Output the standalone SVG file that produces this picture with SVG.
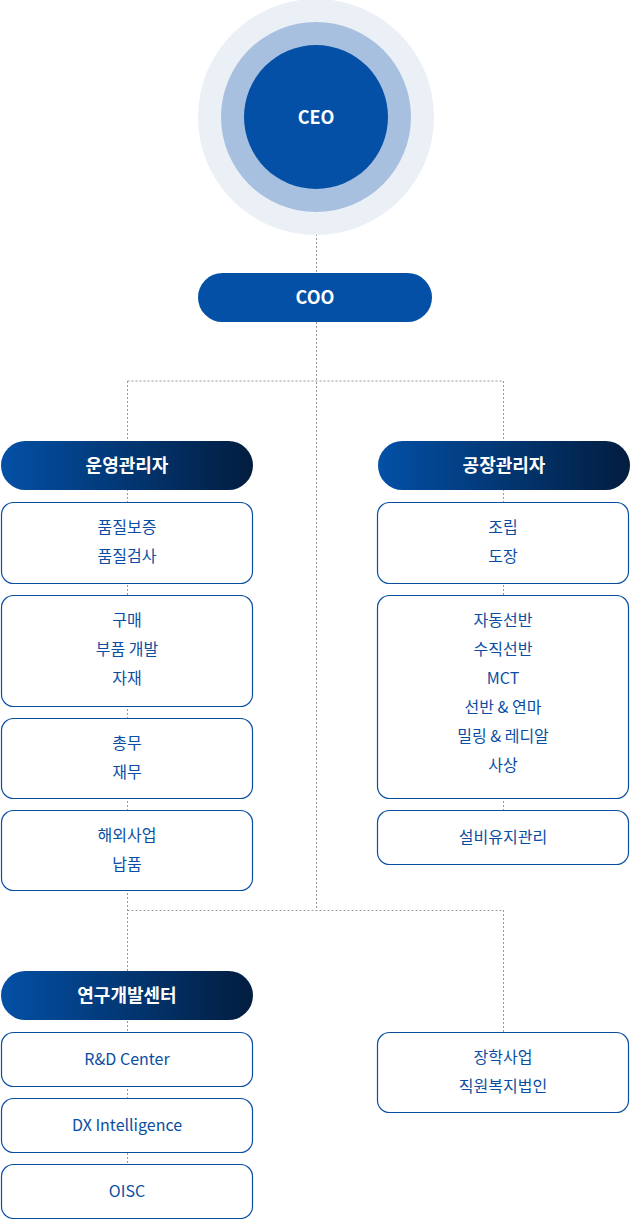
<svg xmlns="http://www.w3.org/2000/svg" width="630" height="1219" viewBox="0 0 630 1219">
<defs>
<linearGradient id="hg" x1="0" y1="0" x2="1" y2="0"><stop offset="0" stop-color="#0350a6"/><stop offset="1" stop-color="#021d3f"/></linearGradient>
<style>
.ln{stroke:#9a9a9a;stroke-width:1;stroke-dasharray:2 2;fill:none}
.bx{fill:#fff;stroke:#0a4ea3;stroke-width:1.2}
.hd{fill:url(#hg)}
.t{font-family:"Noto Sans CJK KR","Noto Sans",sans-serif;font-size:16px;fill:#0a4ea3;text-anchor:middle}
.w{font-family:"Noto Sans CJK KR","Noto Sans",sans-serif;font-size:18px;font-weight:bold;fill:#fff;text-anchor:middle}
</style>
</defs>
<rect width="630" height="1219" fill="#fff"/>
<g id="connectors">
<path class="ln" d="M316.5 190V908M127.5 381H503.5M127.5 381V1164M503.5 381V810M127.5 910.5H503.5M503.5 910V1032"/>
</g>
<g id="ceo">
<circle cx="316" cy="117" r="118" fill="#ebf0f7"/>
<circle cx="316" cy="117" r="95" fill="#a7c0df"/>
<circle cx="316" cy="117" r="72" fill="#0350a6"/>
<text class="w" x="316" y="124" font-size="17">CEO</text>
</g>
<g id="coo"><rect x="198" y="273" width="234" height="49" rx="24.5" fill="#0350a6"/><text class="w" x="315" y="304">COO</text></g>
<g id="ops"><rect class="hd" x="1" y="441" width="252" height="49" rx="24.5"/><text class="w" x="127" y="472">운영관리자</text></g>
<g id="ops1"><rect class="bx" x="1.5" y="502.5" width="251" height="81" rx="12"/><text class="t" x="127" y="533">품질보증</text><text class="t" x="127" y="562">품질검사</text></g>
<g id="ops2"><rect class="bx" x="1.5" y="595.5" width="251" height="111" rx="12"/><text class="t" x="127" y="626">구매</text><text class="t" x="127" y="655">부품 개발</text><text class="t" x="127" y="684">자재</text></g>
<g id="ops3"><rect class="bx" x="1.5" y="718.5" width="251" height="80" rx="12"/><text class="t" x="127" y="749">총무</text><text class="t" x="127" y="778">재무</text></g>
<g id="ops4"><rect class="bx" x="1.5" y="810.5" width="251" height="80" rx="12"/><text class="t" x="127" y="841">해외사업</text><text class="t" x="127" y="870">납품</text></g>
<g id="fac"><rect class="hd" x="378" y="441" width="252" height="49" rx="24.5"/><text class="w" x="504" y="472">공장관리자</text></g>
<g id="fac1"><rect class="bx" x="377.5" y="502.5" width="251" height="81" rx="12"/><text class="t" x="503" y="533">조립</text><text class="t" x="503" y="562">도장</text></g>
<g id="fac2"><rect class="bx" x="377.5" y="595.5" width="251" height="203" rx="12"/><text class="t" x="503" y="626">자동선반</text><text class="t" x="503" y="655">수직선반</text><text class="t" x="503" y="684">MCT</text><text class="t" x="503" y="713">선반 &amp; 연마</text><text class="t" x="503" y="742">밀링 &amp; 레디알</text><text class="t" x="503" y="771">사상</text></g>
<g id="fac3"><rect class="bx" x="377.5" y="810.5" width="251" height="54" rx="12"/><text class="t" x="503" y="843">설비유지관리</text></g>
<g id="rnd"><rect class="hd" x="1" y="971" width="252" height="49" rx="24.5"/><text class="w" x="127" y="1002">연구개발센터</text></g>
<g id="rnd1"><rect class="bx" x="1.5" y="1032.5" width="251" height="54" rx="12"/><text class="t" x="127" y="1065">R&amp;D Center</text></g>
<g id="rnd2"><rect class="bx" x="1.5" y="1098.5" width="251" height="54" rx="12"/><text class="t" x="127" y="1131">DX Intelligence</text></g>
<g id="rnd3"><rect class="bx" x="1.5" y="1164.5" width="251" height="54" rx="12"/><text class="t" x="127" y="1197">OISC</text></g>
<g id="etc"><rect class="bx" x="377.5" y="1032.5" width="251" height="80" rx="12"/><text class="t" x="503" y="1063">장학사업</text><text class="t" x="503" y="1092">직원복지법인</text></g>
</svg>
